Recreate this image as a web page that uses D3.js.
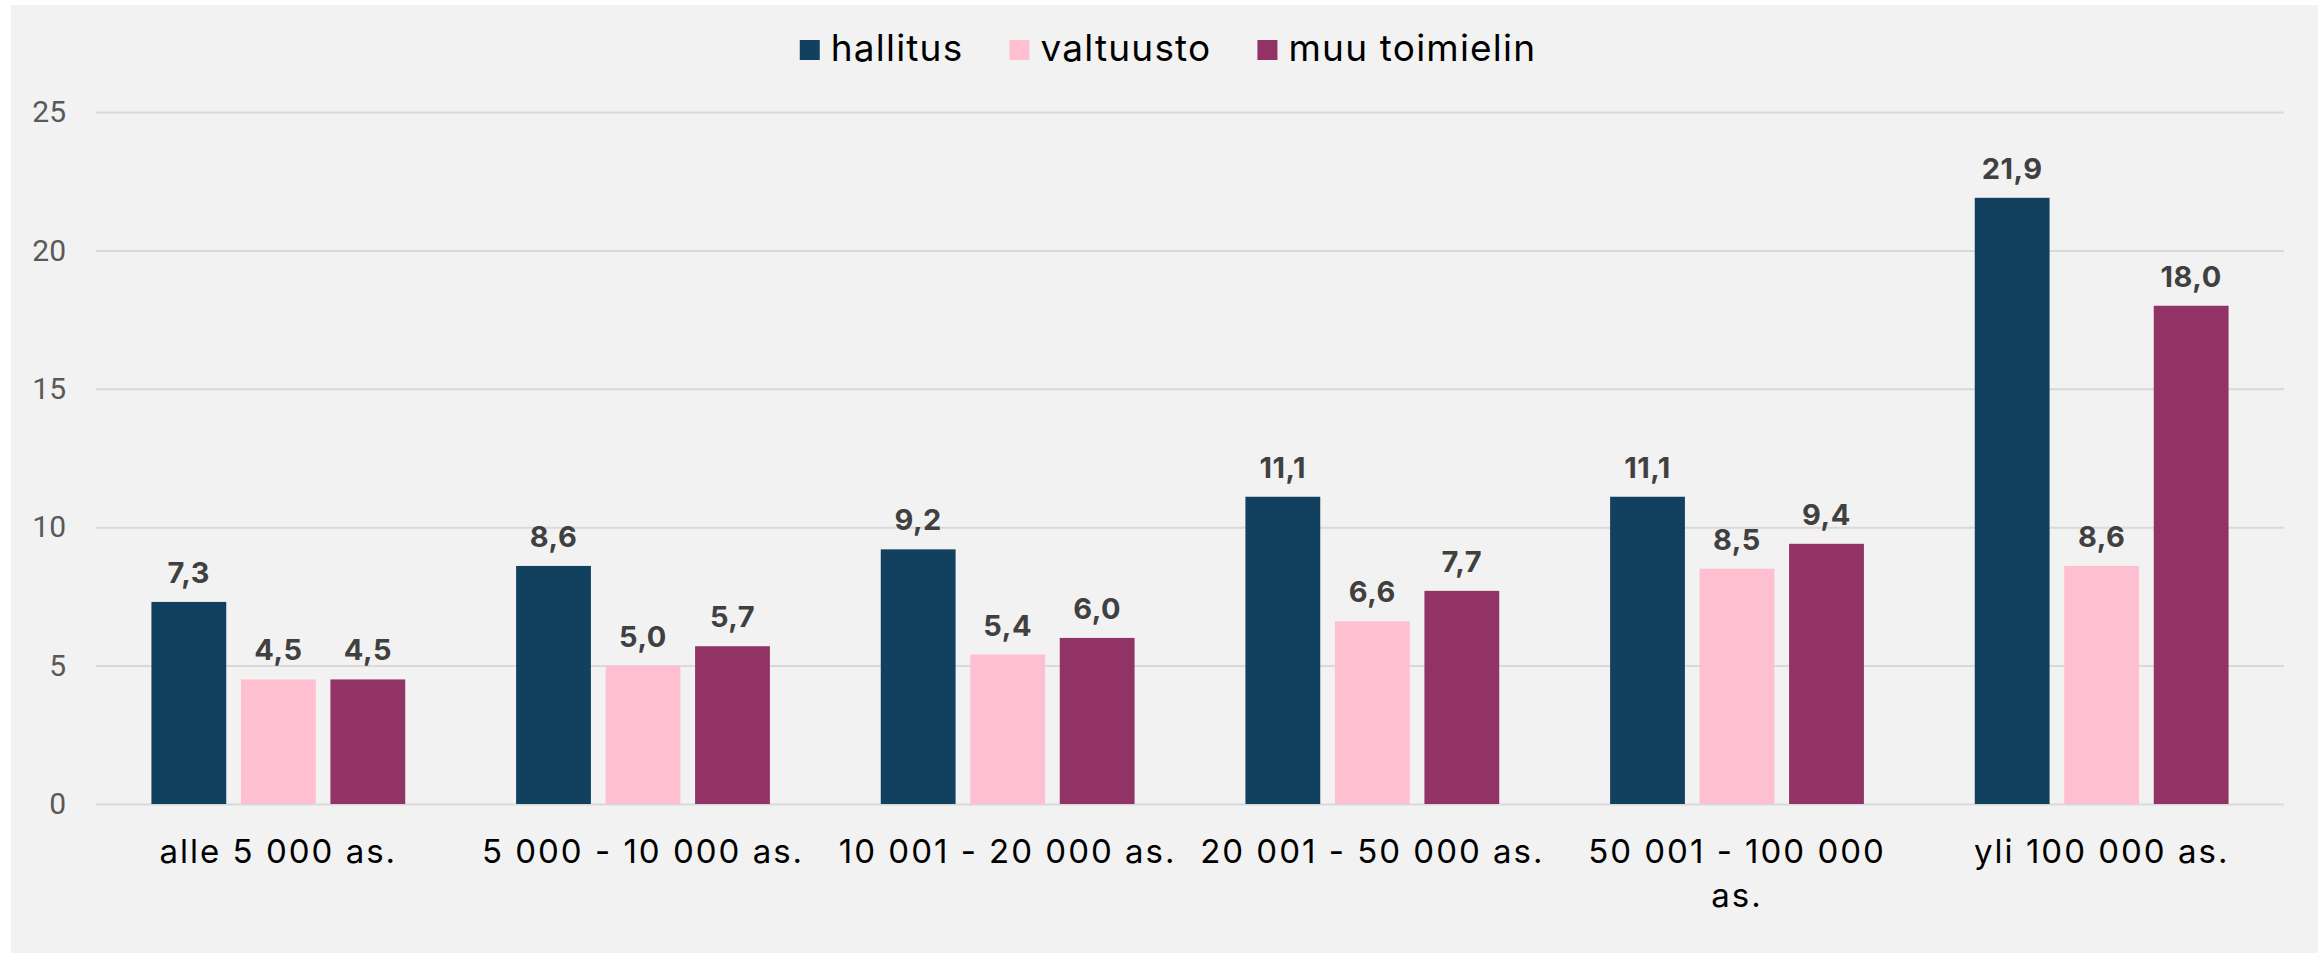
<!DOCTYPE html>
<html>
<head>
<meta charset="utf-8">
<script src="https://cdn.jsdelivr.net/npm/d3@7"></script>
<style>
body { margin: 0; background: #ffffff; }
svg text { font-family: Inter, "Open Sans", sans-serif; }
</style>
</head>
<body>
<div id="chart"></div>
<script>
var categories = ["alle 5 000 as.", "5 000 - 10 000 as.", "10 001 - 20 000 as.", "20 001 - 50 000 as.", "50 001 - 100 000 as.", "yli 100 000 as."];
var series_names = ["hallitus", "valtuusto", "muu toimielin"];
var hallitus = [7.3, 8.6, 9.2, 11.1, 11.1, 21.9];
var valtuusto = [4.5, 5.0, 5.4, 6.6, 8.5, 8.6];
var muu_toimielin = [4.5, 5.7, 6.0, 7.7, 9.4, 18.0];
var y_ticks = [0, 5, 10, 15, 20, 25];

var colours = {"hallitus": "#12405f", "valtuusto": "#fec0d0", "muu toimielin": "#923366"};
var series_values = [hallitus, valtuusto, muu_toimielin];

var width = 2318, height = 953;
var plot = {left: 96, right: 2284, top: 112, bottom: 804};

var fi = d3.formatLocale({decimal: ",", thousands: " ", grouping: [3], currency: ["", "€"]});
var fmt = fi.format(".1f");

var rows = categories.map((c, i) => {
    var r = {category: c};
    series_names.forEach((s, j) => r[s] = series_values[j][i]);
    return r;
});

var svg = d3.select("#chart").append("svg")
    .attr("width", width)
    .attr("height", height);

svg.append("rect")
    .attr("x", 11).attr("y", 5)
    .attr("width", width - 11).attr("height", height - 5)
    .style("fill", "#f2f2f2");

var x0 = d3.scaleBand(categories, [plot.left, plot.right])
    .paddingInner(0.304)
    .paddingOuter(0.152);
var x1 = d3.scaleBand(series_names, [0, x0.bandwidth()])
    .paddingInner(0.164);
var y = d3.scaleLinear([0, 25], [plot.bottom, plot.top]);

// grid + y labels
var yaxis = svg.append("g")
    .attr("transform", "translate(" + plot.left + ",0)")
    .call(d3.axisLeft(y)
	  .tickValues(y_ticks)
	  .tickSize(-(plot.right - plot.left))
	  .tickPadding(30)
	  .tickFormat(d3.format("d")));
yaxis.select(".domain").remove();
yaxis.selectAll("line").style("stroke", "#d9d9d9").style("stroke-width", "2px");
yaxis.selectAll("text")
    .style("font-family", "Roboto, sans-serif")
    .style("font-size", "30px")
    .style("fill", "#595959");

// bars
var group = svg.selectAll(".group")
    .data(rows)
    .enter().append("g")
    .attr("class", "group")
    .attr("transform", d => "translate(" + x0(d.category) + ",0)");

var bars = group.selectAll(".bar")
    .data(d => series_names.map(s => ({key: s, value: d[s]})))
    .enter();
bars.append("rect")
    .attr("class", "bar")
    .attr("x", d => x1(d.key))
    .attr("y", d => y(d.value))
    .attr("width", x1.bandwidth())
    .attr("height", d => y(0) - y(d.value))
    .style("fill", d => colours[d.key]);
bars.append("text")
    .attr("x", d => x1(d.key) + x1.bandwidth() / 2)
    .attr("y", d => y(d.value) - 19)
    .attr("text-anchor", "middle")
    .style("font-size", "29px")
    .style("font-weight", "bold")
    .style("letter-spacing", "0.5px")
    .style("fill", "#404040")
    .text(d => fmt(d.value));

// x labels, wrapped to band step
var xaxis = svg.append("g")
    .attr("transform", "translate(0," + plot.bottom + ")")
    .call(d3.axisBottom(x0).tickSize(0));
xaxis.select(".domain").remove();
xaxis.selectAll("text").each(function(d) {
    var t = d3.select(this).text(null).attr("y", 0).attr("dy", null)
	.style("font-size", "33px")
	.style("letter-spacing", "2px")
	.style("fill", "#000");
    var words = d.split(" "), lines = [], line = [];
    var maxw = x0.step() - 10;
    var probe = t.append("tspan");
    words.forEach(w => {
	line.push(w);
	probe.text(line.join(" "));
	if (probe.node().getComputedTextLength() > maxw && line.length > 1) {
	    line.pop();
	    lines.push(line.join(" "));
	    line = [w];
	}
    });
    lines.push(line.join(" "));
    probe.remove();
    lines.forEach((l, i) => {
	t.append("tspan").attr("x", 0).attr("y", 59 + i * 44).text(l);
    });
});

// legend
var legend = svg.append("g");
var lx = 0;
series_names.forEach(s => {
    var item = legend.append("g").attr("transform", "translate(" + lx + ",0)");
    item.append("rect")
	.attr("x", 0).attr("y", 40)
	.attr("width", 20).attr("height", 20)
	.style("fill", colours[s]);
    var txt = item.append("text")
	.attr("x", 31).attr("y", 61)
	.style("font-size", "37px")
	.style("letter-spacing", "1.2px")
	.style("fill", "#000")
	.text(s);
    lx += 31 + txt.node().getComputedTextLength() + 46;
});
var lw = lx - 46;
legend.attr("transform", "translate(" + (1168 - lw / 2) + ",0)");
</script>
</body>
</html>
